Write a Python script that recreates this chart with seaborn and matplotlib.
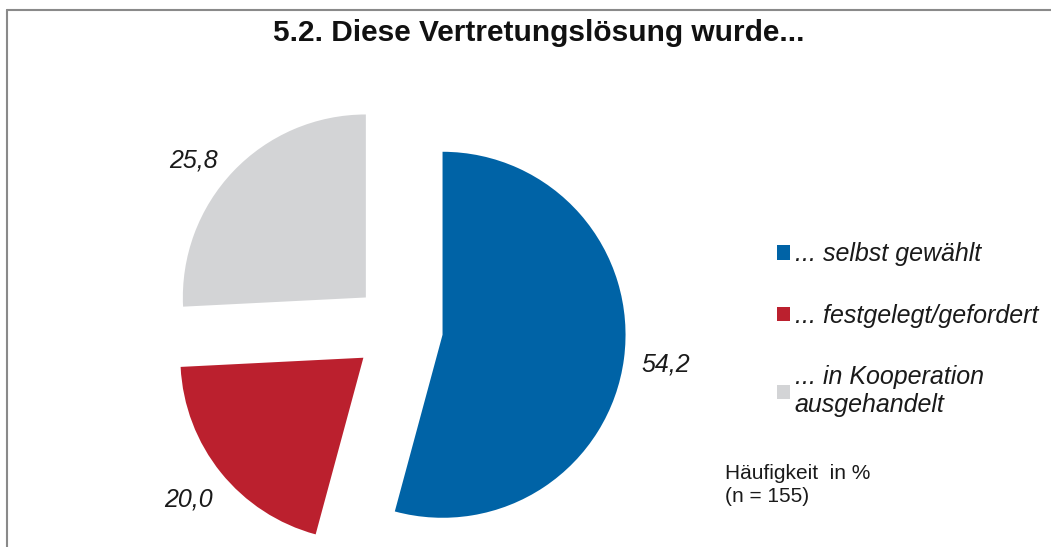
import matplotlib
matplotlib.use("Agg")
import matplotlib.pyplot as plt
import seaborn as sns
from matplotlib.lines import Line2D

categories = ["... selbst gewählt", "... festgelegt/gefordert", "... in Kooperation\nausgehandelt"]
values = [54.2, 20.0, 25.8]
colors = ["#0063a6", "#bb202e", "#d3d4d6"]
title = "5.2. Diese Vertretungslösung wurde..."
note = "Häufigkeit  in %\n(n = 155)"

sns.set_theme(style="white")
plt.rcParams["font.family"] = ["Liberation Sans", "DejaVu Sans"]

fig = plt.figure(figsize=(10.51, 5.47), dpi=100)
ax = fig.add_axes([0, 0, 1, 1])

labels = [f"{v:.1f}".replace(".", ",") for v in values]
wedges, texts = ax.pie(values, colors=colors, startangle=90, counterclock=False,
                       explode=[0.24, 0.25, 0.25], labels=labels, labeldistance=1.23,
                       wedgeprops=dict(linewidth=0),
                       textprops=dict(fontsize=18, style="italic", color="#1a1a1a"))
for t in texts:
    t.set_ha("center")
    t.set_va("center")
# grey label sits a bit lower in the original
x, y = texts[2].get_position()
texts[2].set_position((x - 0.05, y - 0.1))

# radius 1 unit ~ 183 px, centre near (399, 329) px
ax.set_xlim(-399 / 183, (1051 - 399) / 183)
ax.set_ylim(-(547 - 329) / 183, 329 / 183)
ax.set_aspect("auto")
ax.axis("off")

fig.text(0.513, 0.94, title, ha="center", va="center", fontsize=21.5, fontweight="bold",
         color="#111111")

leg = fig.legend(wedges, categories, loc="upper left", bbox_to_anchor=(0.718, 0.598),
                 frameon=False, handlelength=0.5, handleheight=0.5, handletextpad=0.2,
                 labelspacing=1.5, prop=dict(size=18, style="italic"))
for t in leg.get_texts():
    t.set_color("#1a1a1a")
    t.set_linespacing(1.2)

fig.text(0.69, 0.113, note, ha="left", va="center", fontsize=15, color="#1a1a1a",
         linespacing=1.3)

# frame lines (top and left)
y_top = 1 - 10 / 547
x_left = 7 / 1051
fig.add_artist(Line2D([x_left, 1], [y_top, y_top], color="#8a8a8a", lw=1.5,
                      transform=fig.transFigure))
fig.add_artist(Line2D([x_left, x_left], [0, y_top], color="#8a8a8a", lw=1.5,
                      transform=fig.transFigure))

fig.savefig("out.png", dpi=100, facecolor="white")
